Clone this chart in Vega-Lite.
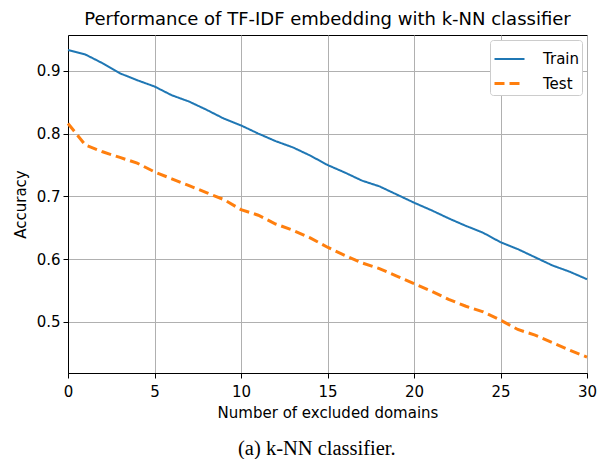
{
  "$schema": "https://vega.github.io/schema/vega-lite/v6.json",
  "padding": {"left": 12, "top": 10, "right": 5, "bottom": 1},
  "background": "white",
  "title": {"text": "(a) k-NN classifier.", "orient": "bottom", "font": "Liberation Serif", "fontSize": 20.5, "fontWeight": "normal", "color": "black", "offset": 18, "anchor": "middle", "dx": 12},
  "config": {
    "font": "DejaVu Sans",
    "view": {"stroke": "black", "strokeWidth": 1}
  },
  "datasets": {
    "acc": [
      {"domains": 0, "series": "Train", "accuracy": 0.933},
      {"domains": 1, "series": "Train", "accuracy": 0.926},
      {"domains": 2, "series": "Train", "accuracy": 0.912},
      {"domains": 3, "series": "Train", "accuracy": 0.896},
      {"domains": 4, "series": "Train", "accuracy": 0.885},
      {"domains": 5, "series": "Train", "accuracy": 0.875},
      {"domains": 6, "series": "Train", "accuracy": 0.861},
      {"domains": 7, "series": "Train", "accuracy": 0.851},
      {"domains": 8, "series": "Train", "accuracy": 0.838},
      {"domains": 9, "series": "Train", "accuracy": 0.824},
      {"domains": 10, "series": "Train", "accuracy": 0.813},
      {"domains": 11, "series": "Train", "accuracy": 0.800},
      {"domains": 12, "series": "Train", "accuracy": 0.788},
      {"domains": 13, "series": "Train", "accuracy": 0.778},
      {"domains": 14, "series": "Train", "accuracy": 0.765},
      {"domains": 15, "series": "Train", "accuracy": 0.750},
      {"domains": 16, "series": "Train", "accuracy": 0.738},
      {"domains": 17, "series": "Train", "accuracy": 0.725},
      {"domains": 18, "series": "Train", "accuracy": 0.716},
      {"domains": 19, "series": "Train", "accuracy": 0.703},
      {"domains": 20, "series": "Train", "accuracy": 0.690},
      {"domains": 21, "series": "Train", "accuracy": 0.678},
      {"domains": 22, "series": "Train", "accuracy": 0.665},
      {"domains": 23, "series": "Train", "accuracy": 0.653},
      {"domains": 24, "series": "Train", "accuracy": 0.642},
      {"domains": 25, "series": "Train", "accuracy": 0.627},
      {"domains": 26, "series": "Train", "accuracy": 0.616},
      {"domains": 27, "series": "Train", "accuracy": 0.603},
      {"domains": 28, "series": "Train", "accuracy": 0.590},
      {"domains": 29, "series": "Train", "accuracy": 0.580},
      {"domains": 30, "series": "Train", "accuracy": 0.568},
      {"domains": 0, "series": "Test", "accuracy": 0.816},
      {"domains": 1, "series": "Test", "accuracy": 0.782},
      {"domains": 2, "series": "Test", "accuracy": 0.771},
      {"domains": 3, "series": "Test", "accuracy": 0.762},
      {"domains": 4, "series": "Test", "accuracy": 0.753},
      {"domains": 5, "series": "Test", "accuracy": 0.739},
      {"domains": 6, "series": "Test", "accuracy": 0.728},
      {"domains": 7, "series": "Test", "accuracy": 0.717},
      {"domains": 8, "series": "Test", "accuracy": 0.706},
      {"domains": 9, "series": "Test", "accuracy": 0.695},
      {"domains": 10, "series": "Test", "accuracy": 0.679},
      {"domains": 11, "series": "Test", "accuracy": 0.670},
      {"domains": 12, "series": "Test", "accuracy": 0.656},
      {"domains": 13, "series": "Test", "accuracy": 0.646},
      {"domains": 14, "series": "Test", "accuracy": 0.634},
      {"domains": 15, "series": "Test", "accuracy": 0.619},
      {"domains": 16, "series": "Test", "accuracy": 0.606},
      {"domains": 17, "series": "Test", "accuracy": 0.594},
      {"domains": 18, "series": "Test", "accuracy": 0.585},
      {"domains": 19, "series": "Test", "accuracy": 0.573},
      {"domains": 20, "series": "Test", "accuracy": 0.561},
      {"domains": 21, "series": "Test", "accuracy": 0.549},
      {"domains": 22, "series": "Test", "accuracy": 0.536},
      {"domains": 23, "series": "Test", "accuracy": 0.525},
      {"domains": 24, "series": "Test", "accuracy": 0.516},
      {"domains": 25, "series": "Test", "accuracy": 0.503},
      {"domains": 26, "series": "Test", "accuracy": 0.488},
      {"domains": 27, "series": "Test", "accuracy": 0.479},
      {"domains": 28, "series": "Test", "accuracy": 0.467},
      {"domains": 29, "series": "Test", "accuracy": 0.455},
      {"domains": 30, "series": "Test", "accuracy": 0.444}
    ]
  },
  "vconcat": [
    {
      "width": 519,
      "height": 338,
      "title": {"text": "Performance of TF-IDF embedding with k-NN classifier", "fontSize": 18, "fontWeight": "normal", "color": "black", "font": "DejaVu Sans", "anchor": "middle", "offset": 6},
      "data": {"name": "acc"},
      "mark": {"type": "line", "strokeCap": "butt"},
      "encoding": {
        "x": {"field": "domains", "type": "quantitative",
              "scale": {"domain": [0, 30], "nice": false, "zero": false},
              "axis": {"title": "Number of excluded domains", "values": [0, 5, 10, 15, 20, 25, 30], "labelFontSize": 15, "titleFontSize": 15, "titleFontWeight": "normal", "labelColor": "black", "titleColor": "black", "domainColor": "black", "tickColor": "black", "tickSize": 5, "labelPadding": 6, "titlePadding": 6, "gridColor": "#b0b0b0", "gridWidth": 1, "gridOpacity": 1, "labelFlush": false}},
        "y": {"field": "accuracy", "type": "quantitative",
              "scale": {"domain": [0.4187, 0.957], "nice": false, "zero": false},
              "axis": {"title": "Accuracy", "values": [0.5, 0.6, 0.7, 0.8, 0.9], "format": ".1f", "labelFontSize": 15, "titleFontSize": 15, "titleFontWeight": "normal", "labelColor": "black", "titleColor": "black", "domainColor": "black", "tickColor": "black", "tickSize": 5, "labelPadding": 3, "titlePadding": 8, "gridColor": "#b0b0b0", "gridWidth": 1, "gridOpacity": 1}},
        "color": {"field": "series", "type": "nominal",
                  "scale": {"domain": ["Train", "Test"], "range": ["#1f77b4", "#ff7f0e"]},
                  "legend": {"title": null, "orient": "top-right", "offset": 5, "labelFontSize": 15, "labelColor": "black", "symbolType": "stroke", "symbolSize": 900, "fillColor": "white", "strokeColor": "#cccccc", "cornerRadius": 3, "padding": 3, "rowPadding": -7, "labelOffset": 17}},
        "strokeDash": {"field": "series", "type": "nominal",
                       "scale": {"domain": ["Train", "Test"], "range": [[1, 0], [10, 5]]},
                       "legend": null},
        "strokeWidth": {"field": "series", "type": "nominal",
                        "scale": {"domain": ["Train", "Test"], "range": [2, 3]},
                        "legend": null}
      }
    }
  ]
}
